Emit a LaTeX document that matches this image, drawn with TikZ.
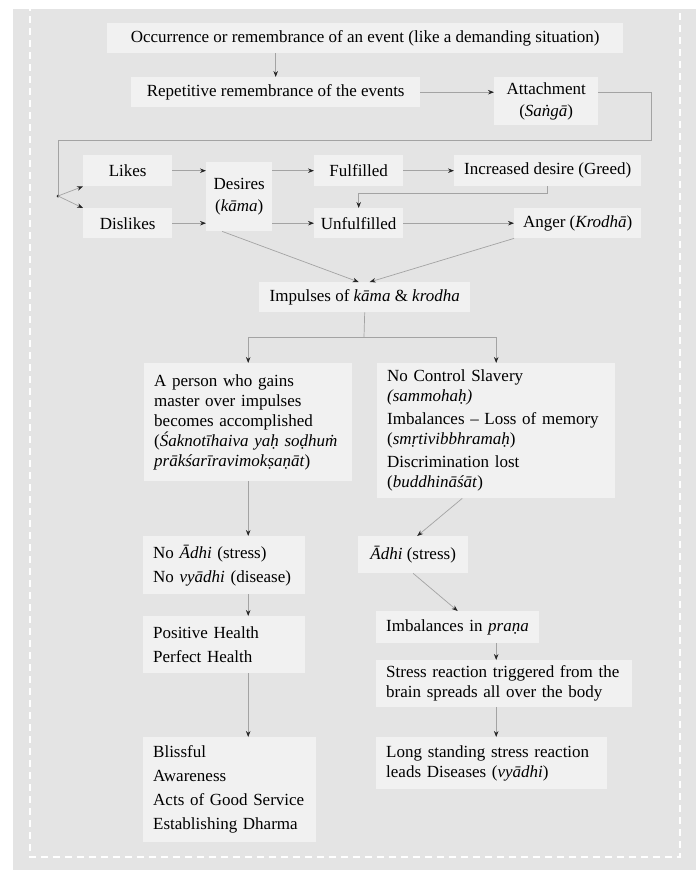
\documentclass[tikz,border=0pt]{standalone}
\usepackage{fontspec}
\setmainfont{Liberation Serif}
\usetikzlibrary{arrows.meta,calc}

\definecolor{panelgray}{HTML}{E4E4E4}
\definecolor{boxgray}{HTML}{F1F1F1}
\definecolor{linegray}{HTML}{A3A3A3}

\begin{document}
\begin{tikzpicture}[x=1pt, y=-1pt,
    every node/.style={fill=boxgray, inner sep=0pt, anchor=north west, font=\fontsize{17}{20}\selectfont},
    box/.style args={#1x#2}{minimum width=#1, minimum height=#2, align=center},
    tbox/.style args={#1x#2}{text width=#1, minimum height=#2, inner xsep=10pt, align=left},
    link/.style={draw=linegray, line width=0.7pt},
    flow/.style={link, -{Stealth[length=6pt, width=4.5pt, color=black!85]}}]
            \useasboundingbox (0,0) rectangle (696,870);
            \fill[panelgray] (13,9) rectangle (696,870);
            \draw[white, line width=1.2pt, dash pattern=on 7pt off 5pt] (30,4) rectangle (680,857);

            % top part
            \node[box=516x30] (occ) at (107,23) {Occurrence or remembrance of an event (like a demanding situation)};
            \node[box=289x30] (rep) at (131,77) {Repetitive remembrance of the events};
            \node[box=104x48] (att) at (494,77) {Attachment\\[2pt](\textit{Saṅgā})};
            \node[box=89x31] (likes) at (83,155) {Likes};
            \node[box=89x30] (dislikes) at (83,208) {Dislikes};
            \node[box=66x69] (desires) at (206,162) {Desires\\[2pt](\textit{kāma})};
            \node[box=89x31] (fulf) at (314,155) {Fulfilled};
            \node[box=187x31] (greed) at (454,155) {Increased desire (Greed)};
            \node[box=89x30] (unfulf) at (314,208) {Unfulfilled};
            \node[box=127x30] (anger) at (514,208) {Anger (\textit{Krodhā})};
            \node[box=211x30] (impulses) at (259,282) {Impulses of \textit{kāma} \& \textit{krodha}};

            % left branch
            \node[tbox=188x118] (gains) at (144,363) {A person who gains\\master over impulses\\becomes accomplished\\(\textit{Śaknotīhaiva yaḥ soḍhuṁ}\\\textit{prākśarīravimokṣaṇāt})};
            \node[tbox=142x58] (noadhi) at (143,536) {No \textit{Ādhi} (stress)\\[4pt]No \textit{vyādhi} (disease)};
            \node[tbox=142x57] (positive) at (143,616) {Positive Health\\[4pt]Perfect Health};
            \node[tbox=153x105] (blissful) at (143,737) {Blissful\\[4pt]Awareness\\[4pt]Acts of Good Service\\[4pt]Establishing Dharma};

            % right branch
            \node[tbox=218x135] (slavery) at (377,363) {No Control Slavery\\\textit{(sammohaḥ)}\\[3pt]Imbalances – Loss of memory\\(\textit{smṛtivibbhramaḥ})\\[3pt]Discrimination lost\\(\textit{buddhināśāt})};
            \node[box=110x37] (adhi) at (358,536) {\textit{Ādhi} (stress)};
            \node[tbox=143x32] (prana) at (376,611) {Imbalances in \textit{praṇa}};
            \node[tbox=236x47] (stress) at (376,660) {Stress reaction triggered from the\\brain spreads all over the body};
            \node[tbox=211x52] (longst) at (376,737) {Long standing stress reaction\\leads Diseases (\textit{vyādhi})};

            \coordinate (bend) at (651,140);
            \coordinate (fork) at (58,196);
            \coordinate (split) at (364,337);

            \draw[flow] (occ.south -| rep.north) -- (rep.north);
            \draw[flow] (rep.east) -- (rep.east -| att.west);
            \draw[link] (att.east |- rep.east) -| (bend) -| (fork);
            \fill[black!85] (fork) circle (1.5pt);
            \draw[flow] (fork) -- (likes.south west);
            \draw[flow] (fork) -- (dislikes.north west);
            \draw[flow] (likes.east) -- (likes.east -| desires.west);
            \draw[flow] (dislikes.east) -- (dislikes.east -| desires.west);
            \draw[flow] (desires.east |- fulf.west) -- (fulf.west);
            \draw[flow] (desires.east |- unfulf.west) -- (unfulf.west);
            \draw[flow] (fulf.east) -- (greed.west);
            \draw[flow] (greed.south) -- ++(0,7) -| (unfulf.north);
            \draw[flow] (unfulf.east) -- (anger.west);
            \draw[flow] ($(desires.south)+(-17,0)$) -- ($(impulses.north)+(-6,0)$);
            \draw[flow] (anger.south west) -- ($(impulses.north)+(5,0)$);

            \draw[link] (impulses.south) -- (split);
            \draw[flow] (split) -| (gains.north);
            \draw[flow] (split) -| (slavery.north);
            \draw[flow] (gains.south) -- (gains.south |- noadhi.north);
            \draw[flow] (noadhi.south -| gains.south) -- (positive.north -| gains.south);
            \draw[flow] (positive.south -| gains.south) -- (blissful.north -| gains.south);

            \draw[flow] ($(slavery.south)+(-34,0)$) -- ($(adhi.north)+(4,0)$);
            \draw[flow] (adhi.south) -- (prana.north);
            \draw[flow] (prana.south -| slavery.south) -- (stress.north -| slavery.south);
            \draw[flow] (stress.south -| slavery.south) -- (longst.north -| slavery.south);

        \end{tikzpicture}
\end{document}
